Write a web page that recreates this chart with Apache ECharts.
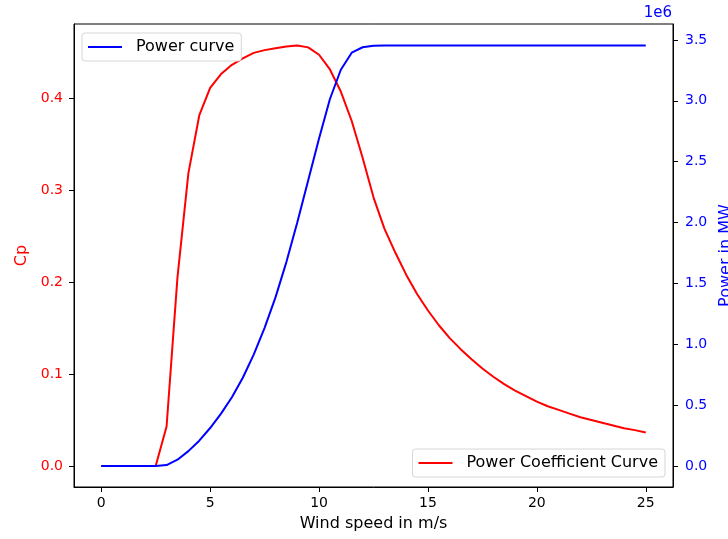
<!DOCTYPE html>
<html>
<head>
<meta charset="utf-8">
<script src="https://cdn.jsdelivr.net/npm/echarts@6/dist/echarts.min.js"></script>
<style>
  html, body { margin: 0; padding: 0; background: #fff; }
  #main { width: 728px; height: 539px; }
</style>
</head>
<body>
<div id="main"></div>
<script>
// wind speed (m/s), power coefficient and power (W)
var windSpeed = [0, 0.5, 1, 1.5, 2, 2.5, 3, 3.5, 4, 4.5, 5, 5.5, 6, 6.5, 7, 7.5, 8, 8.5, 9, 9.5,
  10, 10.5, 11, 11.5, 12, 12.5, 13, 13.5, 14, 14.5, 15, 15.5, 16, 16.5, 17, 17.5, 18, 18.5, 19, 19.5,
  20, 20.5, 21, 21.5, 22, 22.5, 23, 23.5, 24, 24.5, 25];
var cpValues = [0, 0, 0, 0, 0, 0, 0.043, 0.205, 0.318, 0.381, 0.411, 0.426, 0.436, 0.443, 0.449, 0.452, 0.454, 0.456, 0.457, 0.455,
  0.447, 0.431, 0.407, 0.375, 0.335, 0.292, 0.258, 0.232, 0.208, 0.187, 0.169, 0.153, 0.139, 0.127, 0.116, 0.106, 0.097, 0.089, 0.082, 0.076,
  0.070, 0.065, 0.061, 0.057, 0.053, 0.050, 0.047, 0.044, 0.041, 0.039, 0.0365];
var powerValues = [0, 0, 0, 0, 0, 0, 8000, 52000, 122000, 208000, 312000, 430000, 565000, 725000, 915000, 1135000, 1385000, 1675000, 2000000, 2345000,
  2690000, 3015000, 3255000, 3395000, 3440000, 3452000, 3455000, 3455000, 3455000, 3455000, 3455000, 3455000, 3455000, 3455000, 3455000, 3455000, 3455000, 3455000, 3455000, 3455000,
  3455000, 3455000, 3455000, 3455000, 3455000, 3455000, 3455000, 3455000, 3455000, 3455000, 3455000];
var xTicks = [0, 5, 10, 15, 20, 25];
var cpTicks = [0, 0.1, 0.2, 0.3, 0.4];
var powerTicks = [0, 500000, 1000000, 1500000, 2000000, 2500000, 3000000, 3500000];

var chart = echarts.init(document.getElementById('main'));

var font = 'DejaVu Sans';

var cpData = windSpeed.map(function (v, i) { return [v, cpValues[i]]; });
var powerData = windSpeed.map(function (v, i) { return [v, powerValues[i]]; });

var legendBase = {
  orient: 'vertical',
  icon: 'rect',
  itemWidth: 34,
  itemHeight: 2,
  itemGap: 0,
  backgroundColor: '#fff',
  borderColor: '#d6d6d6',
  borderWidth: 1,
  borderRadius: 3,
  padding: [5, 7, 5, 6],
  textStyle: { fontFamily: font, fontSize: 16, color: '#000', lineHeight: 18, padding: [0, 0, 0, 9] }
};

var axisLine = { show: true, onZero: false, lineStyle: { color: '#000', width: 1 } };
var tickStyle = { color: '#000', width: 1 };

var option = {
  animation: false,
  backgroundColor: '#fff',
  grid: {
    left: 74, right: 55, top: 24, bottom: 52,
    outerBoundsMode: 'none', containLabel: false,
    show: true, borderColor: '#000', borderWidth: 1, backgroundColor: 'transparent'
  },
  legend: [
    Object.assign({}, legendBase, { data: ['Power curve'], left: 82, top: 33 }),
    Object.assign({}, legendBase, { data: ['Power Coefficient Curve'], right: 63, top: 449 })
  ],
  graphic: [{
    type: 'text', x: 672, y: 13,
    style: { text: '1e6', fill: '#0000ff', font: '15px DejaVu Sans', align: 'right', verticalAlign: 'middle' }
  }],
  xAxis: {
    type: 'value', min: -1.25, max: 26.25,
    name: 'Wind speed in m/s', nameLocation: 'middle', nameGap: 29,
    nameTextStyle: { fontFamily: font, fontSize: 16, color: '#000' },
    axisLine: axisLine,
    axisTick: { show: true, inside: false, length: 5, customValues: xTicks, lineStyle: tickStyle },
    axisLabel: { customValues: xTicks, margin: 9, fontFamily: font, fontSize: 14, color: '#000' },
    splitLine: { show: false }
  },
  yAxis: [{
    type: 'value', min: -0.0228, max: 0.4804, position: 'left',
    name: 'Cp', nameLocation: 'middle', nameGap: 41,
    nameTextStyle: { fontFamily: font, fontSize: 16, color: '#ff0000' },
    axisLine: axisLine,
    axisTick: { show: true, inside: false, length: 5, customValues: cpTicks, lineStyle: tickStyle },
    axisLabel: {
      customValues: cpTicks, margin: 11, fontFamily: font, fontSize: 14, color: '#ff0000',
      formatter: function (v) { return v.toFixed(1); }
    },
    splitLine: { show: false }
  }, {
    type: 'value', min: -172500, max: 3631000, position: 'right',
    name: 'Power in MW', nameLocation: 'middle', nameGap: 42,
    nameTextStyle: { fontFamily: font, fontSize: 16, color: '#0000ff' },
    axisLine: axisLine,
    axisTick: { show: true, inside: false, length: 5, customValues: powerTicks, lineStyle: tickStyle },
    axisLabel: {
      customValues: powerTicks, margin: 12, fontFamily: font, fontSize: 14, color: '#0000ff',
      formatter: function (v) { return (v / 1e6).toFixed(1); }
    },
    splitLine: { show: false }
  }],
  series: [{
    name: 'Power Coefficient Curve', type: 'line', yAxisIndex: 0,
    data: cpData, showSymbol: false, symbol: 'none',
    lineStyle: { color: '#ff0000', width: 2 }, itemStyle: { color: '#ff0000' }
  }, {
    name: 'Power curve', type: 'line', yAxisIndex: 1,
    data: powerData, showSymbol: false, symbol: 'none',
    lineStyle: { color: '#0000ff', width: 2 }, itemStyle: { color: '#0000ff' }
  }]
};

chart.setOption(option);
</script>
</body>
</html>
